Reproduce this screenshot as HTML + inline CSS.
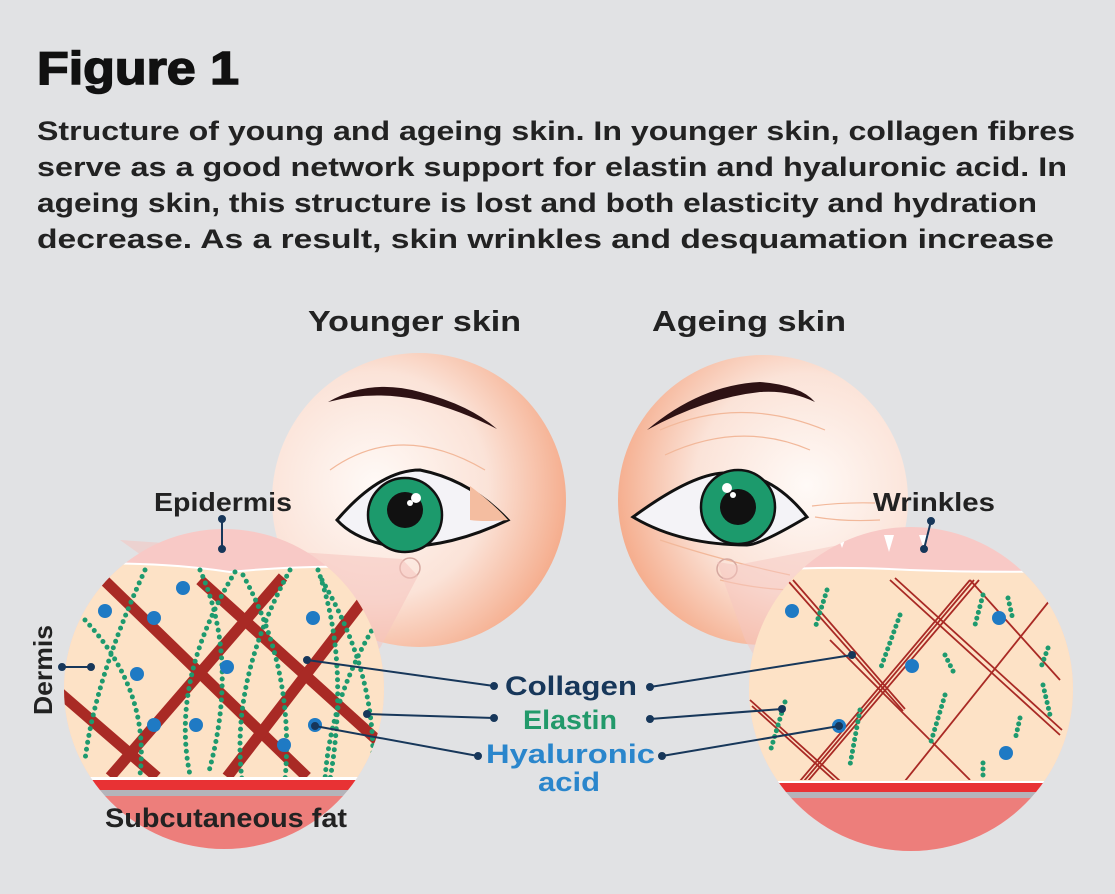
<!DOCTYPE html>
<html><head><meta charset="utf-8"><style>
html,body{margin:0;padding:0;background:#e1e2e4;}
svg{display:block}
text{font-family:"Liberation Sans",sans-serif;font-weight:bold}
</style></head><body>
<svg width="1115" height="894" viewBox="0 0 1115 894" xmlns="http://www.w3.org/2000/svg">
<defs>
<radialGradient id="faceL" cx="0.35" cy="0.45" r="0.7">
<stop offset="0" stop-color="#fffaf7"/><stop offset="0.55" stop-color="#fbe3d8"/><stop offset="1" stop-color="#f4a582"/></radialGradient>
<radialGradient id="faceR" cx="0.65" cy="0.45" r="0.7">
<stop offset="0" stop-color="#fffaf7"/><stop offset="0.55" stop-color="#fbe3d8"/><stop offset="1" stop-color="#f4a582"/></radialGradient>
<clipPath id="cL"><circle cx="224" cy="689" r="160"/></clipPath>
<clipPath id="cR"><circle cx="911" cy="689" r="162"/></clipPath>
<clipPath id="dL"><rect x="0" y="567" width="1115" height="210"/></clipPath>
<clipPath id="dR"><rect x="0" y="571" width="1115" height="209"/></clipPath>
</defs>
<rect width="1115" height="894" fill="#e1e2e4"/>
<g lengthAdjust="spacingAndGlyphs">
<text x="37" y="84" font-size="46" fill="#111" font-weight="900" textLength="202" lengthAdjust="spacingAndGlyphs" stroke="#111" stroke-width="1.5">Figure 1</text>
<g font-size="27" fill="#222">
<text x="37" y="140" textLength="1038" lengthAdjust="spacingAndGlyphs">Structure of young and ageing skin. In younger skin, collagen fibres</text>
<text x="37" y="176" textLength="1030" lengthAdjust="spacingAndGlyphs">serve as a good network support for elastin and hyaluronic acid. In</text>
<text x="37" y="212" textLength="1000" lengthAdjust="spacingAndGlyphs">ageing skin, this structure is lost and both elasticity and hydration</text>
<text x="37" y="248" textLength="1017" lengthAdjust="spacingAndGlyphs">decrease. As a result, skin wrinkles and desquamation increase</text>
</g>
<text x="308" y="331" font-size="29" fill="#222" textLength="213" lengthAdjust="spacingAndGlyphs">Younger skin</text>
<text x="652" y="331" font-size="29" fill="#222" textLength="194" lengthAdjust="spacingAndGlyphs">Ageing skin</text>
</g>

<!-- faces -->
<circle cx="419" cy="500" r="147" fill="url(#faceL)"/>
<circle cx="763" cy="500" r="145" fill="url(#faceR)"/>
<path d="M328,402 Q370,378 420,392 Q470,405 497,429 Q460,410 420,400 Q372,390 328,402Z" fill="#2e1214"/>
<path d="M330,470 Q400,420 485,470" stroke="#f2b89a" stroke-width="1.2" fill="none"/>
<path d="M337,520 Q380,470 420,470 Q470,480 508,520 Q450,548 395,547 Q355,540 337,520Z" fill="#f4f3f7" stroke="#111" stroke-width="3"/>
<path d="M470,486 Q495,505 508,520 Q485,522 470,520Z" fill="#f4bda0"/>
<circle cx="405" cy="515" r="37" fill="#1c9a6c" stroke="#111" stroke-width="2.5"/>
<circle cx="405" cy="510" r="18" fill="#111"/>
<circle cx="416" cy="498" r="5" fill="#fff"/><circle cx="410" cy="503" r="3" fill="#fff"/>
<circle cx="410" cy="568" r="10" fill="none" stroke="#d6a8a0" stroke-width="1.5"/>
<path d="M647,430 Q700,385 760,382 Q800,385 815,402 Q790,390 760,392 Q705,398 647,430Z" fill="#2e1214"/>
<path d="M660,430 Q740,395 825,430 M665,455 Q740,420 810,450 M660,540 Q720,560 790,575 M720,580 Q760,590 800,590" stroke="#f2b89a" stroke-width="1.2" fill="none"/>
<path d="M812,506 Q845,502 875,503 M815,517 Q845,522 880,520" stroke="#f2b89a" stroke-width="1.2" fill="none"/>
<path d="M633,517 Q690,475 723,473 Q770,470 807,517 Q760,545 747,545 Q680,545 633,517Z" fill="#f4f3f7" stroke="#111" stroke-width="3"/>
<circle cx="738" cy="507" r="37" fill="#1c9a6c" stroke="#111" stroke-width="2.5"/>
<circle cx="738" cy="507" r="18" fill="#111"/>
<circle cx="727" cy="488" r="5" fill="#fff"/><circle cx="733" cy="495" r="3" fill="#fff"/>
<circle cx="727" cy="569" r="10" fill="none" stroke="#d6a8a0" stroke-width="1.5"/>

<!-- cones -->
<path d="M120,540 L402,559 L418,576 L380,648 L330,690 Z" fill="#f6c5c0" opacity="0.55"/>
<path d="M717,562 L737,565 L905,532 L1000,560 L780,700 L745,640 Z" fill="#f6c5c0" opacity="0.5"/>

<!-- left magnified -->
<g clip-path="url(#cL)">
<rect x="60" y="520" width="330" height="340" fill="#f8c9c6"/>
<path d="M60,565 Q150,560 230,572 Q300,565 390,567 L390,778 L60,778Z" fill="#fde2c6"/>
<path d="M60,565 Q150,560 230,572 Q300,565 390,567" stroke="#fff" stroke-width="2" fill="none"/>
<g clip-path="url(#dL)">
<g stroke="#a92a25" stroke-width="11" fill="none">
<line x1="104" y1="580" x2="307" y2="777"/>
<line x1="200" y1="580" x2="377" y2="740"/>
<line x1="60" y1="693" x2="157" y2="777"/>
<line x1="283" y1="577" x2="110" y2="777"/>
<line x1="365" y1="598" x2="227" y2="777"/>
</g>
<g stroke="#1e9a6e" stroke-width="5" stroke-dasharray="0 7" stroke-linecap="round" fill="none">
<path d="M145,570 Q95,680 85,760"/>
<path d="M85,620 Q150,690 140,775"/>
<path d="M200,570 Q240,660 208,775"/>
<path d="M235,572 Q170,680 190,775"/>
<path d="M290,570 Q230,680 242,780"/>
<path d="M243,575 Q295,670 285,780"/>
<path d="M318,570 Q350,660 330,780"/>
<path d="M322,580 Q380,680 372,780"/>
<path d="M375,625 Q330,700 325,780"/>
</g>
</g>
<g fill="#1f7ac4">
<circle cx="183" cy="588" r="7"/><circle cx="105" cy="611" r="7"/><circle cx="154" cy="618" r="7"/>
<circle cx="313" cy="618" r="7"/><circle cx="137" cy="674" r="7"/><circle cx="227" cy="667" r="7"/>
<circle cx="154" cy="725" r="7"/><circle cx="196" cy="725" r="7"/><circle cx="284" cy="745" r="7"/>
<circle cx="315" cy="725" r="7"/>
</g>
<rect x="60" y="777" width="330" height="3" fill="#fff"/>
<rect x="60" y="780" width="330" height="10" fill="#e83234"/>
<rect x="60" y="790" width="330" height="6" fill="#b4b4ba"/>
<rect x="60" y="796" width="330" height="60" fill="#ed7e7b"/>
</g>
<text x="105" y="827" font-size="27" fill="#222" textLength="242" lengthAdjust="spacingAndGlyphs">Subcutaneous fat</text>
<text x="154" y="511" font-size="26" fill="#222" textLength="138" lengthAdjust="spacingAndGlyphs">Epidermis</text>
<text transform="translate(52,715) rotate(-90)" font-size="26" fill="#222" textLength="90" lengthAdjust="spacingAndGlyphs">Dermis</text>
<g stroke="#17375a" stroke-width="2" fill="#17375a">
<line x1="222" y1="519" x2="222" y2="549"/><circle cx="222" cy="519" r="3"/><circle cx="222" cy="549" r="3"/>
<line x1="62" y1="667" x2="91" y2="667"/><circle cx="62" cy="667" r="3"/><circle cx="91" cy="667" r="3"/>
</g>

<!-- right magnified -->
<g clip-path="url(#cR)">
<rect x="745" y="520" width="335" height="340" fill="#f8c9c6"/>
<path d="M745,572 Q820,565 910,570 Q990,573 1080,571 L1080,781 L745,781Z" fill="#fde2c6"/>
<path d="M745,572 Q820,565 910,570 Q990,573 1080,571" stroke="#fff" stroke-width="2" fill="none"/>
<path d="M838,537 L842,548 L846,537Z M884,535 L889,552 L894,535Z M919,535 L924,549 L929,535Z" fill="#fff"/>
<g clip-path="url(#dR)" stroke="#a92a25" stroke-width="1.8" fill="none">
<path d="M789,582 L903,711 M793,580 L905,709"/>
<path d="M890,580 L1060,735 M895,578 L1062,730"/>
<path d="M970,580 L1060,680"/>
<path d="M970,580 L800,781 M974,580 L804,781 M979,580 L808,781"/>
<path d="M1050,600 L905,781"/>
<path d="M750,700 L840,781 M752,706 L835,781"/>
<path d="M830,640 L970,780"/>
</g>
<g stroke="#1e9a6e" stroke-width="5" stroke-dasharray="0 6" stroke-linecap="round" fill="none">
<path d="M827,590 L816,625"/><path d="M900,615 L880,670"/><path d="M983,595 L975,625"/>
<path d="M1008,598 L1013,620"/><path d="M945,655 L955,675"/><path d="M1048,648 L1040,670"/>
<path d="M1043,685 L1050,715"/><path d="M945,695 L930,745"/><path d="M785,702 L770,752"/>
<path d="M860,710 L850,765"/><path d="M1020,718 L1015,740"/><path d="M983,763 L983,780"/>
</g>
<g fill="#1f7ac4">
<circle cx="792" cy="611" r="7"/><circle cx="999" cy="618" r="7"/><circle cx="912" cy="666" r="7"/>
<circle cx="839" cy="726" r="7"/><circle cx="1006" cy="753" r="7"/>
</g>
<rect x="745" y="781" width="340" height="2" fill="#fff"/>
<rect x="745" y="783" width="340" height="9" fill="#e83234"/>
<rect x="745" y="792" width="340" height="6" fill="#b4b4ba"/>
<rect x="745" y="798" width="340" height="60" fill="#ed7e7b"/>
</g>
<text x="873" y="511" font-size="26" fill="#222" textLength="122" lengthAdjust="spacingAndGlyphs">Wrinkles</text>
<g stroke="#17375a" stroke-width="2" fill="#17375a">
<line x1="931" y1="521" x2="924" y2="549"/><circle cx="931" cy="521" r="3"/><circle cx="924" cy="549" r="3"/>
</g>

<!-- legend -->
<text x="505" y="695" font-size="27" fill="#17375a" textLength="132" lengthAdjust="spacingAndGlyphs">Collagen</text>
<text x="523" y="729" font-size="27" fill="#22996a" textLength="94" lengthAdjust="spacingAndGlyphs">Elastin</text>
<text x="486" y="763" font-size="27" fill="#2a86cc" textLength="169" lengthAdjust="spacingAndGlyphs">Hyaluronic</text>
<text x="538" y="791" font-size="27" fill="#2a86cc" textLength="62" lengthAdjust="spacingAndGlyphs">acid</text>
<g stroke="#17375a" stroke-width="2" fill="#17375a">
<line x1="307" y1="660" x2="494" y2="686"/><circle cx="307" cy="660" r="3"/><circle cx="494" cy="686" r="3"/>
<line x1="367" y1="714" x2="494" y2="718"/><circle cx="367" cy="714" r="3"/><circle cx="494" cy="718" r="3"/>
<line x1="315" y1="726" x2="478" y2="756"/><circle cx="315" cy="726" r="3"/><circle cx="478" cy="756" r="3"/>
<line x1="650" y1="687" x2="852" y2="655"/><circle cx="650" cy="687" r="3"/><circle cx="852" cy="655" r="3"/>
<line x1="650" y1="719" x2="782" y2="709"/><circle cx="650" cy="719" r="3"/><circle cx="782" cy="709" r="3"/>
<line x1="662" y1="756" x2="839" y2="726"/><circle cx="662" cy="756" r="3"/><circle cx="839" cy="726" r="3"/>
</g>
</svg>
</body></html>
